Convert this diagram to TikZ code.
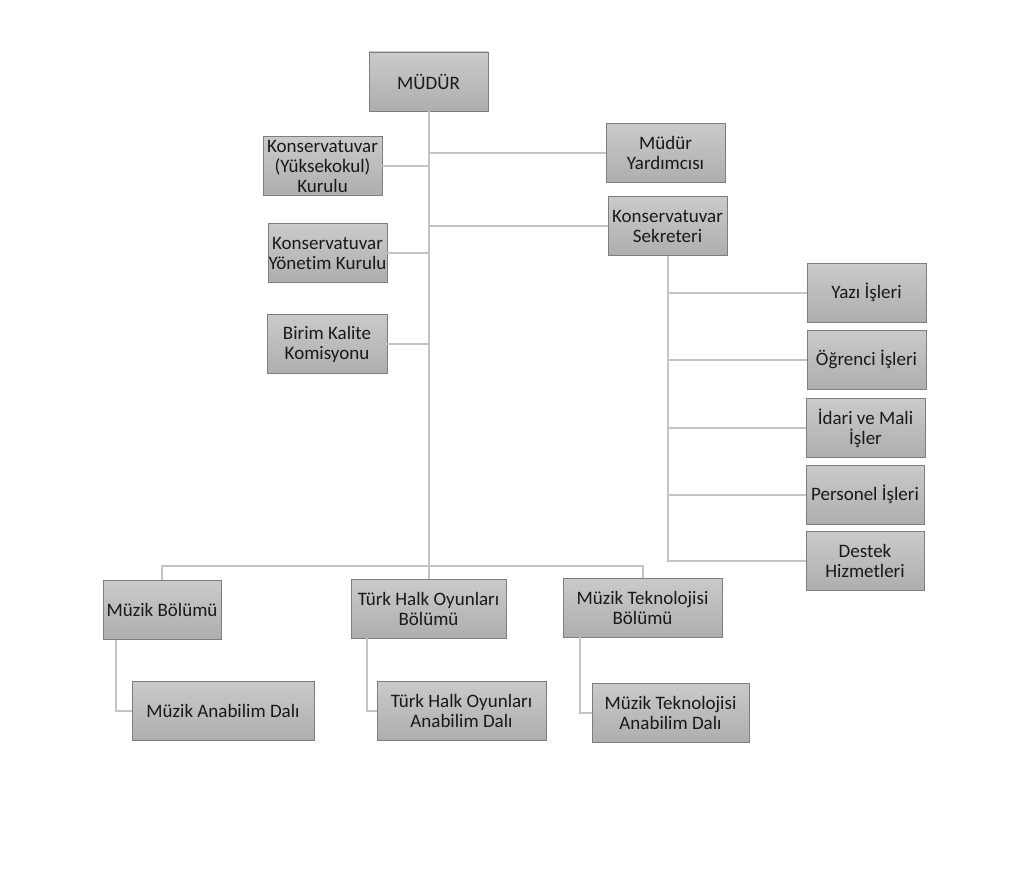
\documentclass[tikz,border=0pt]{standalone}
\usepackage{fontspec}
\setmainfont{Carlito}[Ligatures=NoCommon]
\begin{document}
\begin{tikzpicture}[x=1pt,y=-1pt,
  box/.style={draw={rgb,255:red,125;green,125;blue,125}, line width=0.9pt,
    top color={rgb,255:red,202;green,202;blue,202},
    bottom color={rgb,255:red,174;green,174;blue,174},
    inner sep=0pt, minimum width=#1, minimum height=59pt, align=center,
    font=\fontsize{19}{20}\selectfont, text={rgb,255:red,25;green,25;blue,25}},
  conn/.style={draw={rgb,255:red,196;green,196;blue,196}, line width=2pt}]
\useasboundingbox[fill=white] (0,0) rectangle (1024,883);
% connectors
\coordinate (bus) at (428.5,566);
\coordinate (trunk) at (428.5,111);
\coordinate (sekx) at (667.5,256);
\coordinate (mbx) at (116,640);
\coordinate (thbx) at (367,638);
\coordinate (mtbx) at (580,637);
% nodes
\node[box=119pt] (mudur) at (428.5,81.5) {MÜDÜR};
\node[box=119pt] (kyk) at (322.5,166) {Konservatuvar\\(Yüksekokul)\\Kurulu};
\node[box=119pt] (kyon) at (327.5,253) {Konservatuvar\\Yönetim Kurulu};
\node[box=120pt] (bkk) at (327,344) {Birim Kalite\\Komisyonu};
\node[box=119pt] (my) at (665.5,153) {Müdür\\Yardımcısı};
\node[box=119pt] (sek) at (667.5,226) {Konservatuvar\\Sekreteri};
\node[box=119pt] (yazi) at (866.5,292.5) {Yazı İşleri};
\node[box=119pt] (ogr) at (866.5,359.5) {Öğrenci İşleri};
\node[box=119pt] (idari) at (865.5,428) {İdari ve Mali\\İşler};
\node[box=118pt] (pers) at (865,494.5) {Personel İşleri};
\node[box=118pt] (destek) at (865,560.5) {Destek\\Hizmetleri};
\node[box=118pt] (mb) at (162,610) {Müzik Bölümü};
\node[box=155pt] (thb) at (428.5,608.5) {Türk Halk Oyunları\\Bölümü};
\node[box=159pt] (mtb) at (642.5,607.5) {Müzik Teknolojisi\\Bölümü};
\node[box=182pt] (mad) at (223,710.5) {Müzik Anabilim Dalı};
\node[box=169pt] (thad) at (461.5,710.5) {Türk Halk Oyunları\\Anabilim Dalı};
\node[box=157pt] (mtad) at (670.5,712.5) {Müzik Teknolojisi\\Anabilim Dalı};
\draw[conn] (mudur.south) -- (bus);
\draw[conn] (kyk.east) -- (kyk.east -| mudur.south);
\draw[conn] (kyon.east) -- (kyon.east -| mudur.south);
\draw[conn] (bkk.east) -- (bkk.east -| mudur.south);
\draw[conn] (my.west) -- (my.west -| mudur.south);
\draw[conn] (sek.west) -- (sek.west -| mudur.south);
\draw[conn] (sek.south) |- (destek.west);
\draw[conn] (yazi.west) -- (yazi.west -| sek.south);
\draw[conn] (ogr.west) -- (ogr.west -| sek.south);
\draw[conn] (idari.west) -- (idari.west -| sek.south);
\draw[conn] (pers.west) -- (pers.west -| sek.south);
\draw[conn] (mb.north) |- (bus) -| (mtb.north);
\draw[conn] (bus) -- (thb.north);
\draw[conn] ([xshift=13pt]mb.south west) |- (mad.west);
\draw[conn] ([xshift=16pt]thb.south west) |- (thad.west);
\draw[conn] ([xshift=17pt]mtb.south west) |- (mtad.west);
\end{tikzpicture}
\end{document}
